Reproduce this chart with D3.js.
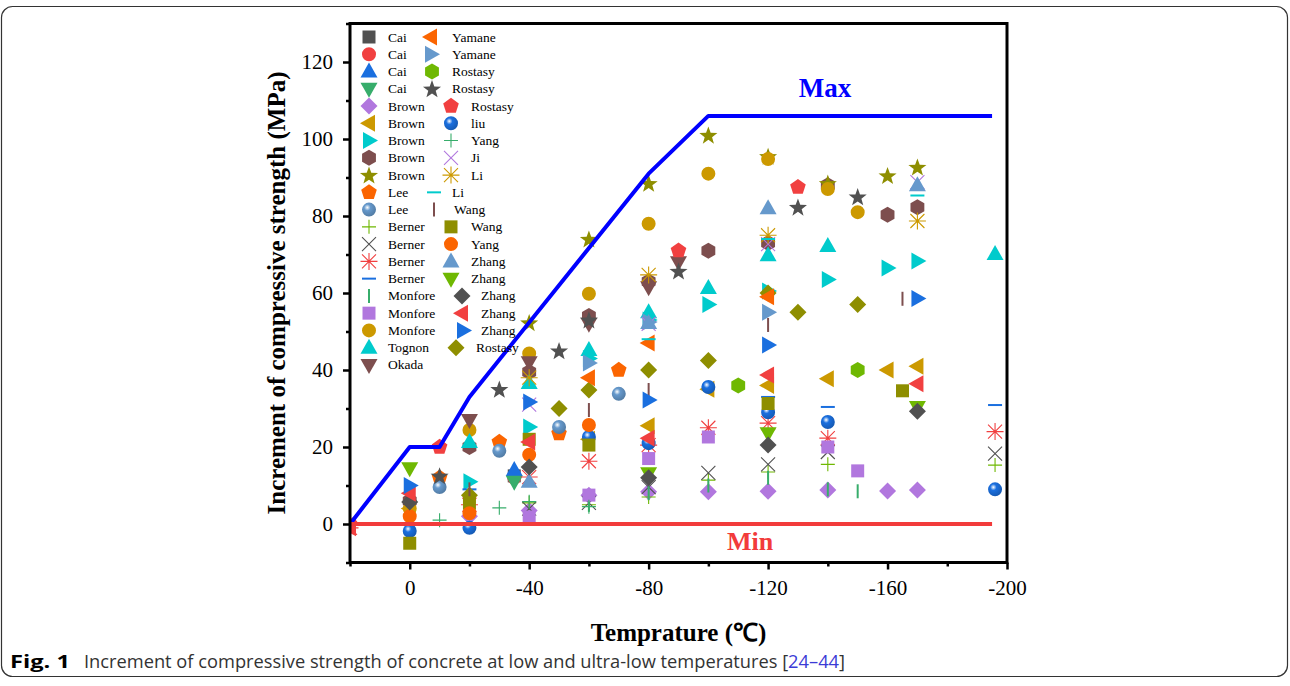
<!DOCTYPE html>
<html>
<head>
<meta charset="utf-8">
<script src="https://cdn.jsdelivr.net/npm/d3@7"></script>
<style>
  body { margin: 0; background: #fff; }
</style>
</head>
<body>
<div id="chart"></div>
<script>
// Origin default colour list and marker cycle
const palette = ["#515151", "#F14040", "#1A6FDF", "#37AD6B", "#B177DE", "#CC9900",
                 "#00CBCC", "#7D4E4E", "#8E8E00", "#FB6501", "#6699CC", "#6FB802"];
const shapeCycle = ["square", "circle", "up", "down", "diamond", "left", "right", "hexagon",
                    "star", "pentagon", "sphere", "plus", "cross", "asterisk", "hbar", "vbar"];

const seriesNames = [
  "Cai", "Cai", "Cai", "Cai", "Brown", "Brown", "Brown", "Brown", "Brown", "Lee",
  "Lee", "Berner", "Berner", "Berner", "Berner", "Monfore", "Monfore", "Monfore", "Tognon", "Okada",
  "Rostasy", "Yamane", "Yamane", "Rostasy", "Rostasy", "Rostasy", "liu", "Yang", "Ji", "Li",
  "Li", "Wang", "Wang", "Yang", "Zhang", "Zhang", "Zhang", "Zhang", "Zhang"
];

// [temperature (°C), increment (MPa)]
const seriesPoints = [
  [[-35, 12.5]],
  [[-35, 12]],
  [[-35, 14]],
  [[-35, 11]],
  [[-20, 2], [-40, 3.5], [-60, 7.5], [-80, 8.4], [-100, 8.4], [-120, 8.5], [-140, 8.8], [-160, 8.6], [-170, 8.8]],
  [[0, 4], [-60, 22], [-80, 25.5], [-100, 35], [-120, 36], [-140, 37.7], [-160, 40], [-170, 41]],
  [[-20, 11], [-40, 25.2], [-60, 43], [-80, 53], [-100, 57], [-120, 60.5], [-140, 63.5], [-160, 66.5], [-170, 68.3]],
  [[0, 6], [-20, 20], [-40, 39.5], [-60, 54], [-80, 63], [-100, 71], [-120, 73], [-140, 88], [-160, 80.3], [-170, 82.3]],
  [[-40, 52.3], [-60, 74], [-80, 88.5], [-100, 101], [-120, 95.5], [-140, 88.5], [-160, 90.5], [-170, 92.7]],
  [[-10, 12], [-30, 21.3], [-50, 23.5], [-70, 40]],
  [[-10, 9.6], [-30, 19], [-50, 25.2], [-70, 33.8]],
  [[-40, 5.5], [-60, 5], [-80, 7], [-100, 11.4], [-120, 13.5], [-140, 15.5], [-196, 15.3]],
  [[-40, 4], [-60, 5.5], [-80, 9.6], [-100, 13.3], [-120, 15.5], [-140, 18.7], [-196, 18.3]],
  [[20, -1], [-20, 5], [-40, 12.2], [-60, 16.3], [-80, 20.5], [-100, 25], [-120, 26.2], [-140, 22.3], [-196, 24]],
  [[-20, 9], [-120, 33], [-140, 30.4], [-196, 30.9]],
  [[-60, 5], [-80, 8], [-100, 10], [-120, 12], [-140, 9], [-150, 8.5]],
  [[-40, 1.8], [-60, 7.5], [-80, 17], [-100, 22.6], [-140, 20], [-150, 13.8]],
  [[0, 4], [-20, 24.4], [-40, 44.3], [-60, 59.8], [-80, 78], [-100, 91], [-120, 94.8], [-140, 87], [-150, 81]],
  [[-20, 21.3], [-40, 36.6], [-60, 45.2], [-80, 55], [-100, 61.3], [-120, 69.8], [-140, 72.2], [-196, 70.1]],
  [[-20, 27], [-40, 42], [-60, 52], [-80, 61.5], [-90, 68]],
  [[-20, 7.5], [-50, 30], [-60, 34.8], [-80, 40], [-100, 42.5], [-120, 60], [-130, 55], [-150, 57]],
  [[20, 0], [-60, 38], [-80, 47], [-120, 59]],
  [[-60, 41.8], [-80, 52.5], [-120, 55]],
  [[-110, 36], [-150, 40]],
  [[-10, 12.5], [-30, 35], [-50, 45], [-60, 53], [-90, 65.7], [-130, 82.3], [-150, 85]],
  [[-10, 20], [-90, 71], [-130, 87.5]],
  [[0, -1.8], [-20, -1], [-60, 22.6], [-80, 21], [-100, 35.6], [-120, 29], [-140, 26.5], [-196, 9]],
  [[20, 0], [-10, 1], [-30, 4.2], [-40, 5.8], [-60, 4.5]],
  [[-40, 31], [-80, 52], [-120, 72.7], [-170, 88.8]],
  [[-40, 38], [-80, 64.7], [-120, 75], [-170, 78.7]],
  [[-80, 48], [-120, 74], [-170, 85.3]],
  [[-20, 9], [-60, 29.6], [-80, 34.8], [-120, 51.7], [-165, 58.5]],
  [[0, -5], [-20, 5.4], [-40, 22], [-60, 20.5], [-120, 31.3], [-165, 34.6]],
  [[0, 2], [-20, 2.8], [-40, 18], [-60, 25.7]],
  [[-40, 11], [-80, 52.2], [-120, 82], [-170, 88]],
  [[0, 14.5], [-80, 13.2], [-120, 23.6], [-170, 30.4]],
  [[0, 5.7], [-40, 14.8], [-80, 12], [-120, 20.5], [-170, 29.3]],
  [[20, -1], [0, 8], [-40, 21.3], [-80, 22.3], [-120, 38.7], [-170, 36.4]],
  [[0, 10], [-40, 31.7], [-80, 32.2], [-120, 46.5], [-170, 58.6]]
];

const maxLineT = [20, 0, -10, -20, -80, -100, -195];
const maxLineV = [0, 20, 20, 33, 91, 106, 106];
const minLineT = [20, -195];
const minLineV = [0, 0];

const xMajorTicks = [0, -40, -80, -120, -160, -200];
const xMinorTicks = [20, -20, -60, -100, -140, -180];
const yMajorTicks = [0, 20, 40, 60, 80, 100, 120];
const yMinorTicks = [-10, 10, 30, 50, 70, 90, 110, 130];

const legendCol1 = d3.range(0, 20);
const legendCol2 = d3.range(21, 39).concat([20]);
// legend column 2: symbol x and label x for each row (layout only)
const legendCol2Sym = [431, 431, 432, 432, 451, 451, 451, 451, 451, 434, 434, 451, 451, 451, 451, 462, 462, 463, 456];
const legendCol2Txt = [452, 452, 452, 452, 471, 471, 471, 471, 471, 452, 454, 471, 471, 471, 471, 481, 481, 481, 476];

const W = 1290, H = 686;
const svg = d3.select("#chart").append("svg")
    .attr("width", W)
    .attr("height", H);

const defs = svg.append("defs");
const pL = 350, pR = 1007, pT = 23.5, pB = 562.5;

const x = d3.scaleLinear().domain([20, -200]).range([pL, pR]);
const y = d3.scaleLinear().domain([-10, 130]).range([pB, pT]);

defs.append("clipPath").attr("id", "plotClip")
  .append("rect")
    .attr("x", pL).attr("y", pT)
    .attr("width", pR - pL).attr("height", pB - pT);

// sphere gradients
palette.forEach(function(c, i) {
    const g = defs.append("radialGradient")
        .attr("id", "sph" + i)
        .attr("cx", "38%").attr("cy", "35%").attr("r", "65%");
    g.append("stop").attr("offset", "0%").attr("stop-color", "#ffffff");
    g.append("stop").attr("offset", "35%").attr("stop-color", c);
    g.append("stop").attr("offset", "100%").attr("stop-color", d3.color(c).darker(0.6));
});

function poly(n, r, rot) {
    const pts = d3.range(n).map(function(i) {
        const a = rot + i * 2 * Math.PI / n;
        return [r * Math.cos(a), r * Math.sin(a)];
    });
    return "M" + pts.map(p => p.join(",")).join("L") + "Z";
}

function shapePath(type) {
    switch (type) {
        case "square": return "M-6.5,-6.5H6.5V6.5H-6.5Z";
        case "circle": case "sphere": return d3.symbol(d3.symbolCircle, 154)();
        case "up": return "M0,-9L8.5,6L-8.5,6Z";
        case "down": return "M0,9L8.5,-6L-8.5,-6Z";
        case "left": return "M-9,0L6,-8.5L6,8.5Z";
        case "right": return "M9,0L-6,-8.5L-6,8.5Z";
        case "diamond": return "M0,-8.5L8.5,0L0,8.5L-8.5,0Z";
        case "hexagon": return poly(6, 8, -Math.PI / 2);
        case "pentagon": return poly(5, 8.2, -Math.PI / 2);
        case "star": {
            const pts = d3.range(10).map(function(i) {
                const r = i % 2 ? 3.9 : 9.5;
                const a = -Math.PI / 2 + i * Math.PI / 5;
                return [r * Math.cos(a), r * Math.sin(a) + 0.8];
            });
            return "M" + pts.map(p => p.join(",")).join("L") + "Z";
        }
        case "plus": return "M-7,0H7M0,-7V7";
        case "cross": return "M-7,-7L7,7M-7,7L7,-7";
        case "asterisk": return "M-7,-7L7,7M-7,7L7,-7M-8.5,0H8.5M0,-8.5V8.5";
        case "hbar": return "M-7,0H7";
        case "vbar": return "M0,-7V7";
    }
}

const lineShapes = ["plus", "cross", "asterisk", "hbar", "vbar"];

function drawMarker(sel, idx) {
    const type = shapeCycle[idx % 16];
    const ci = idx % 12;
    const color = palette[ci];
    const p = sel.append("path").attr("d", shapePath(type));
    if (lineShapes.includes(type)) {
        p.attr("fill", "none").attr("stroke", color)
         .attr("stroke-width", (type === "hbar" || type === "vbar") ? 2 : 1.1);
    } else if (type === "sphere") {
        p.attr("fill", "url(#sph" + ci + ")");
    } else {
        p.attr("fill", color);
    }
    return p;
}

// markers
const plot = svg.append("g").attr("clip-path", "url(#plotClip)");
seriesPoints.forEach(function(pts, idx) {
    const g = plot.append("g").attr("class", "series");
    pts.forEach(function(d) {
        const m = g.append("g").attr("transform", `translate(${x(d[0])},${y(d[1])})`);
        drawMarker(m, idx);
    });
});

// Max / Min lines
const line = d3.line().x(d => x(d[0])).y(d => y(d[1]));
plot.append("path")
    .datum(maxLineT.map((t, i) => [t, maxLineV[i]]))
    .attr("d", line)
    .attr("fill", "none")
    .attr("stroke", "#0000ff")
    .attr("stroke-width", 4)
    .attr("stroke-linejoin", "round");
plot.append("path")
    .datum(minLineT.map((t, i) => [t, minLineV[i]]))
    .attr("d", line)
    .attr("fill", "none")
    .attr("stroke", "#f23b3b")
    .attr("stroke-width", 4);

const serif = "'Liberation Serif', 'Times New Roman', serif";

svg.append("text")
    .attr("x", 825).attr("y", 97)
    .attr("text-anchor", "middle")
    .attr("font-family", serif)
    .attr("font-weight", "bold")
    .attr("font-size", 27)
    .attr("fill", "#0000ff")
    .text("Max");
svg.append("text")
    .attr("x", 750).attr("y", 550)
    .attr("text-anchor", "middle")
    .attr("font-family", serif)
    .attr("font-weight", "bold")
    .attr("font-size", 26)
    .attr("fill", "#f23b3b")
    .text("Min");

// axes
function styleAxis(g) {
    g.select(".domain").remove();
    g.selectAll(".tick line").attr("stroke", "#000").attr("stroke-width", 2.5);
    g.selectAll(".tick text").attr("font-family", serif).attr("font-size", 21).attr("fill", "#000");
}

svg.append("g")
    .attr("transform", `translate(0,${pB})`)
    .call(d3.axisBottom(x).tickValues(xMajorTicks).tickSize(7).tickPadding(11).tickFormat(d => String(d)))
    .call(styleAxis);
svg.append("g")
    .attr("transform", `translate(0,${pB})`)
    .call(d3.axisBottom(x).tickValues(xMinorTicks).tickSize(4).tickFormat(""))
    .call(styleAxis);
svg.append("g")
    .attr("transform", `translate(${pL},0)`)
    .call(d3.axisLeft(y).tickValues(yMajorTicks).tickSize(7).tickPadding(10).tickFormat(d => String(d)))
    .call(styleAxis);
svg.append("g")
    .attr("transform", `translate(${pL},0)`)
    .call(d3.axisLeft(y).tickValues(yMinorTicks).tickSize(4).tickFormat(""))
    .call(styleAxis);

// frame
svg.append("rect")
    .attr("x", pL).attr("y", pT)
    .attr("width", pR - pL).attr("height", pB - pT)
    .attr("fill", "none")
    .attr("stroke", "#000")
    .attr("stroke-width", 3);

// axis titles
svg.append("text")
    .attr("transform", `translate(285,${(pT + pB) / 2}) rotate(-90)`)
    .attr("text-anchor", "middle")
    .attr("font-family", serif)
    .attr("font-weight", "bold")
    .attr("font-size", 25)
    .text("Increment of compressive strength (MPa)");
svg.append("text")
    .attr("x", (pL + pR) / 2).attr("y", 641)
    .attr("text-anchor", "middle")
    .attr("font-family", serif)
    .attr("font-weight", "bold")
    .attr("font-size", 25)
    .text("Temprature (\u2103)");

// legend
const legend = svg.append("g");
const rowY = i => 37 + i * 17.26;
legendCol1.forEach(function(idx, i) {
    const m = legend.append("g").attr("transform", `translate(369,${rowY(i)})`);
    drawMarker(m, idx);
    legend.append("text")
        .attr("x", 388).attr("y", rowY(i) + 4.5)
        .attr("font-family", serif).attr("font-size", 13.5)
        .text(seriesNames[idx]);
});
legendCol2.forEach(function(idx, i) {
    const m = legend.append("g").attr("transform", `translate(${legendCol2Sym[i]},${rowY(i)})`);
    drawMarker(m, idx);
    legend.append("text")
        .attr("x", legendCol2Txt[i]).attr("y", rowY(i) + 4.5)
        .attr("font-family", serif).attr("font-size", 13.5)
        .text(seriesNames[idx]);
});

// outer figure box and caption
svg.append("rect")
    .attr("x", 1.5).attr("y", 6.5)
    .attr("width", 1286).attr("height", 670)
    .attr("rx", 11)
    .attr("fill", "none")
    .attr("stroke", "#333")
    .attr("stroke-width", 1.2);

const capFont = "'Liberation Sans Narrow', 'Open Sans', 'Noto Sans', sans-serif";
svg.append("text")
    .attr("x", 10).attr("y", 668)
    .attr("font-family", capFont)
    .attr("font-weight", "bold")
    .attr("font-size", 18)
    .attr("textLength", 60)
    .attr("lengthAdjust", "spacingAndGlyphs")
    .text("Fig. 1");
const cap = svg.append("text")
    .attr("x", 84).attr("y", 668)
    .attr("font-family", capFont)
    .attr("font-size", 18)
    .attr("fill", "#333")
    .attr("textLength", 761)
    .attr("lengthAdjust", "spacingAndGlyphs");
cap.append("tspan").text("Increment of compressive strength of concrete at low and ultra-low temperatures [");
cap.append("tspan").attr("fill", "#3b3bd6").text("24\u201344");
cap.append("tspan").text("]");
</script>
</body>
</html>
